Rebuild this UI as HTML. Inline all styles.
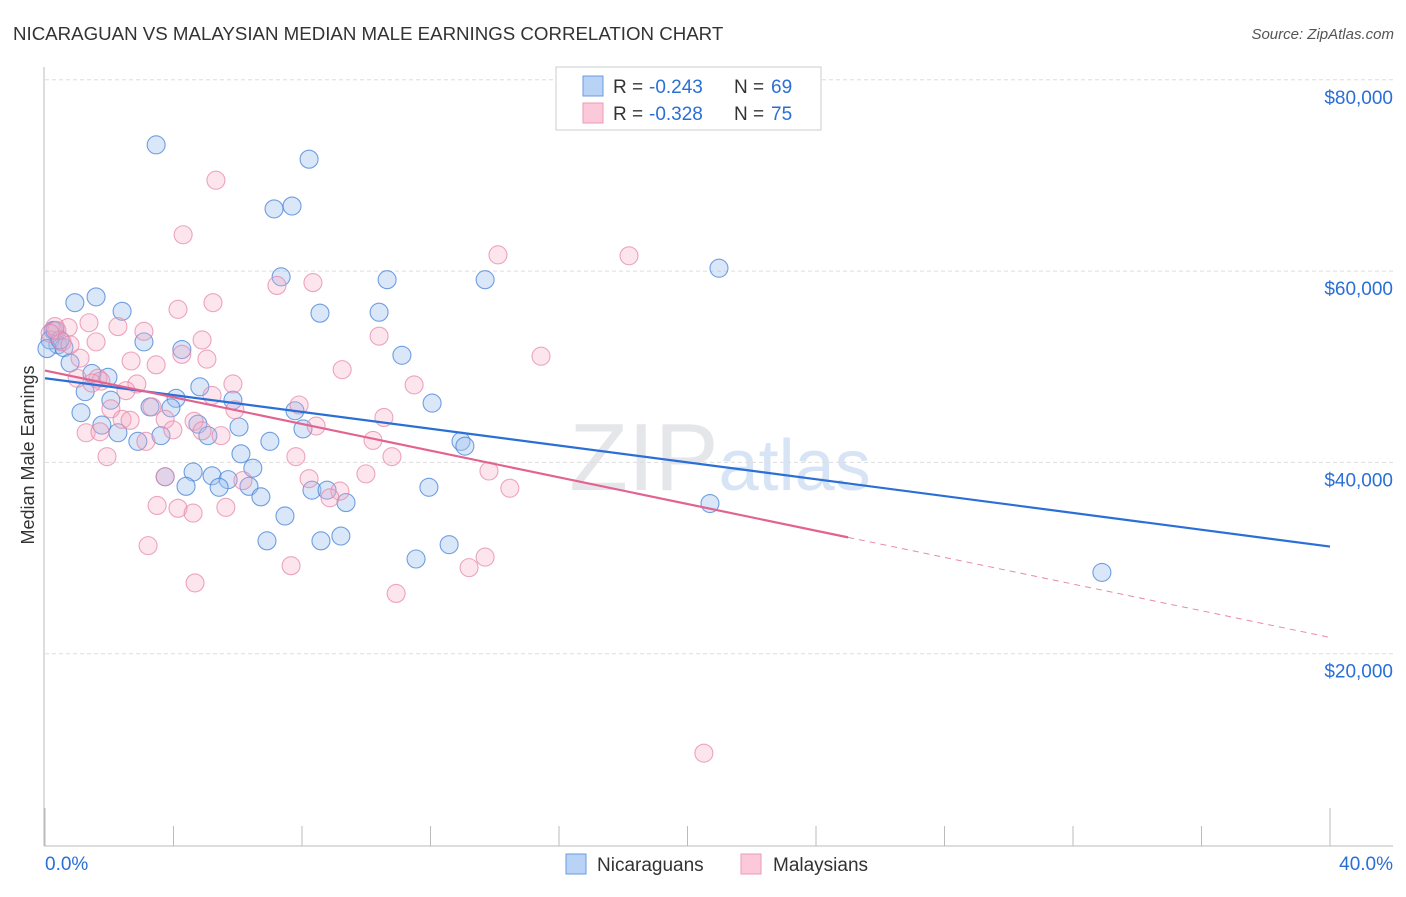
<!DOCTYPE html>
<html><head><meta charset="utf-8"><style>
body{margin:0;background:#fff;font-family:"Liberation Sans",sans-serif}
svg text{font-family:"Liberation Sans",sans-serif}
</style></head><body>
<svg id="chart" width="1406" height="892" xmlns="http://www.w3.org/2000/svg">
<text x="13" y="40" font-size="18.7" fill="#333">NICARAGUAN VS MALAYSIAN MEDIAN MALE EARNINGS CORRELATION CHART</text>
<text x="1394" y="39" font-size="15" fill="#555" text-anchor="end" font-style="italic">Source: ZipAtlas.com</text>
<text x="720" y="490" font-size="96" fill="#e4e6ea" text-anchor="middle" font-family="Liberation Serif">ZIP<tspan fill="#d6e4f5" font-family="Liberation Sans" font-size="72">atlas</tspan></text>
<g id="grid"></g><g id="axes"></g><g id="pts"></g><g id="trend"></g>
<text transform="translate(34,455) rotate(-90)" font-size="18" fill="#333" text-anchor="middle">Median Male Earnings</text>
<g>
<rect x="556" y="67" width="265" height="63" fill="#fff" stroke="#ccc"/>
<rect x="583" y="76" width="20" height="20" fill="#b8d3f5" stroke="#6a9be0"/>
<rect x="583" y="103" width="20" height="20" fill="#fbc9d9" stroke="#e99ab5"/>
<text x="613" y="93" font-size="19" fill="#333">R =</text>
<text x="649" y="93" font-size="19" fill="#2a6fd6">-0.243</text>
<text x="734" y="93" font-size="19" fill="#333">N =</text>
<text x="771" y="93" font-size="19" fill="#2a6fd6">69</text>
<text x="613" y="120" font-size="19" fill="#333">R =</text>
<text x="649" y="120" font-size="19" fill="#2a6fd6">-0.328</text>
<text x="734" y="120" font-size="19" fill="#333">N =</text>
<text x="771" y="120" font-size="19" fill="#2a6fd6">75</text>
</g>
<g>
<rect x="566" y="854" width="20" height="20" fill="#b8d3f5" stroke="#6a9be0"/>
<text x="597" y="871" font-size="19" fill="#333">Nicaraguans</text>
<rect x="741" y="854" width="20" height="20" fill="#fbc9d9" stroke="#e99ab5"/>
<text x="773" y="871" font-size="19" fill="#333">Malaysians</text>
</g>
</svg>
<script>
const yTicks=[20000,40000,60000,80000];
const yTickLabels=["$20,000","$40,000","$60,000","$80,000"];
const xTicks=[0,4,8,12,16,20,24,28,32,36,40];
const blueX=[3.46,8.22,7.13,7.69,20.98,7.35,10.65,13.70,0.93,1.59,2.40,8.56,10.40,3.08,4.26,0.25,0.40,0.16,0.59,11.11,0.78,1.96,1.46,1.25,4.82,4.08,5.85,2.05,3.27,3.92,1.12,7.78,12.05,1.77,2.27,4.76,6.04,8.03,3.61,5.07,2.89,7.00,12.95,13.07,6.10,6.47,4.61,3.74,5.20,5.70,4.39,5.42,6.35,11.95,6.72,8.31,8.78,9.37,20.70,7.47,6.91,8.59,9.21,11.55,12.58,32.90,0.06,0.31,0.47];
const blueY=[73.2,71.7,66.5,66.8,60.3,59.4,59.1,59.1,56.7,57.3,55.8,55.6,55.7,52.6,51.8,53.8,52.3,52.8,52.0,51.2,50.4,48.9,49.3,47.4,47.9,46.7,46.5,46.5,45.8,45.7,45.2,45.4,46.2,43.9,43.1,44.0,43.7,43.5,42.8,42.8,42.2,42.2,42.2,41.7,40.9,39.4,39.0,38.5,38.6,38.2,37.5,37.4,37.5,37.4,36.4,37.1,37.1,35.8,35.7,34.4,31.8,31.8,32.3,29.9,31.4,28.5,51.9,53.8,52.8];
const pinkX=[5.32,4.30,14.10,18.18,7.22,8.34,5.23,4.14,1.37,2.27,0.72,3.08,0.37,10.40,4.89,1.59,4.26,5.04,2.68,1.09,3.46,9.25,15.44,1.00,1.65,2.86,1.74,11.49,2.52,5.20,3.33,5.91,7.91,2.05,2.40,2.65,10.55,3.74,4.64,8.44,1.28,1.71,3.98,4.89,3.14,10.21,5.48,1.93,7.81,10.80,13.82,9.99,3.74,8.22,6.16,9.18,8.87,14.47,3.49,4.14,5.63,4.61,3.21,7.66,13.70,13.20,4.67,10.93,20.51,0.31,0.53,0.16,0.78,1.46,5.85];
const pinkY=[69.5,63.8,61.7,61.6,58.5,58.8,56.7,56.0,54.6,54.2,54.1,53.7,53.8,53.2,52.8,52.6,51.3,50.8,50.6,50.9,50.2,49.7,51.1,48.8,48.8,48.2,48.5,48.1,47.5,47.0,45.8,45.5,46.0,45.6,44.5,44.4,44.7,44.5,44.3,43.8,43.1,43.2,43.4,43.3,42.2,42.3,42.8,40.6,40.6,40.6,39.1,38.8,38.5,38.3,38.1,37.0,36.3,37.3,35.5,35.2,35.3,34.7,31.3,29.2,30.1,29.0,27.4,26.3,9.6,54.2,52.6,53.5,52.3,48.3,48.2];
const blueTrend=[48.8,31.2];
const pinkTrend=[49.6,21.7];
const pinkSolidEnd=25.0;

const NS="http://www.w3.org/2000/svg";
const X=p=>45+p*(1285/40);
const Y=v=>845-v*(191.3/20000);
const Yk=k=>Y(k*1000);
function mk(t,a,parent){const e=document.createElementNS(NS,t);for(const k in a)e.setAttribute(k,a[k]);document.getElementById(parent).appendChild(e);return e;}
yTicks.forEach((v,i)=>{
 const l=mk('line',{x1:45,x2:1393,y1:Y(v),y2:Y(v),stroke:'#ddd','stroke-dasharray':'4,3'},'grid');
 
 
 const t=mk('text',{x:1393,y:Y(v)+24,'font-size':19,fill:'#2a6fd6','text-anchor':'end'},'grid');
 t.textContent=yTickLabels[i];
 
 
});
const ax=mk('line',{x1:44,x2:44,y1:67,y2:846,stroke:'#bbb'},'axes');


const bx=mk('line',{x1:44,x2:1393,y1:846,y2:846,stroke:'#bbb'},'axes');


xTicks.forEach((p,i)=>{
 const tall=(i===0||i===xTicks.length-1);
 const t=mk('line',{x1:X(p),x2:X(p),y1:tall?808:826,y2:846,stroke:'#bbb'},'axes');
 
 
});
const xl=mk('text',{x:45,y:870,'font-size':19,fill:'#2a6fd6'},'axes');xl.textContent='0.0%';


const xr=mk('text',{x:1393,y:870,'font-size':19,fill:'#2a6fd6','text-anchor':'end'},'axes');xr.textContent='40.0%';


blueX.forEach((x,i)=>{
 const c=mk('circle',{cx:X(x),cy:Yk(blueY[i]),r:9,fill:'rgba(160,195,240,0.4)',stroke:'rgba(70,130,215,0.75)','stroke-width':1.1},'pts');
 
 
});
pinkX.forEach((x,i)=>{
 const c=mk('circle',{cx:X(x),cy:Yk(pinkY[i]),r:9,fill:'rgba(245,170,195,0.3)',stroke:'rgba(230,130,165,0.7)','stroke-width':1.1},'pts');
 
 
});
const bt=mk('line',{x1:X(0),y1:Yk(blueTrend[0]),x2:X(40),y2:Yk(blueTrend[1]),stroke:'#2a6fd6','stroke-width':2.2},'trend');


const pm=pinkTrend[0]+(pinkTrend[1]-pinkTrend[0])*pinkSolidEnd/40;
const pt=mk('line',{x1:X(0),y1:Yk(pinkTrend[0]),x2:X(pinkSolidEnd),y2:Yk(pm),stroke:'#e2638f','stroke-width':2.2},'trend');


const pd=mk('line',{x1:X(pinkSolidEnd),y1:Yk(pm),x2:X(40),y2:Yk(pinkTrend[1]),stroke:'#e88aa8','stroke-width':1,'stroke-dasharray':'6,5'},'trend');


</script>
</body></html>
